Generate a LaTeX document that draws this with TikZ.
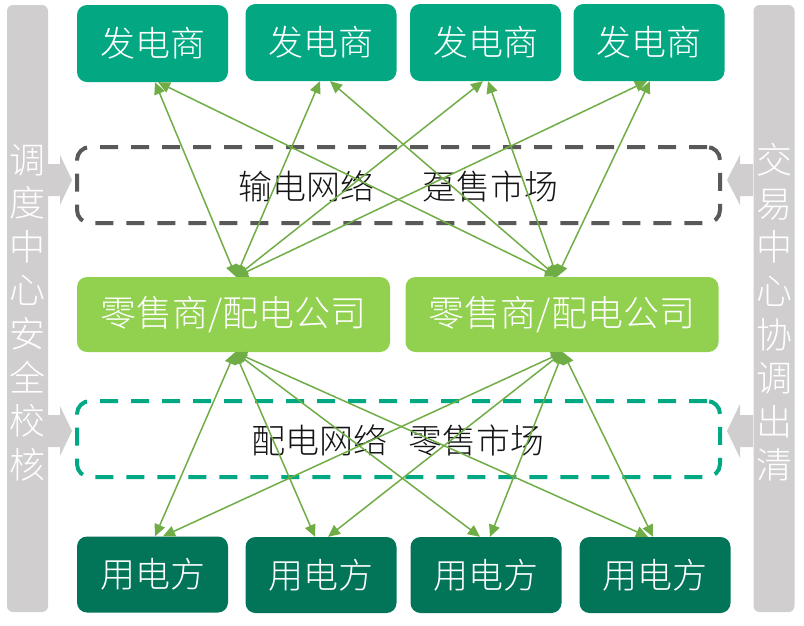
\documentclass[tikz,border=0pt]{standalone}
\usepackage{fontspec}
\setmainfont{Noto Sans CJK SC Light}
\usetikzlibrary{arrows.meta,calc}
\definecolor{gencol}{RGB}{3,168,130}
\definecolor{retcol}{RGB}{146,208,80}
\definecolor{usecol}{RGB}{2,116,88}
\definecolor{linkcol}{RGB}{112,173,71}
\definecolor{barcol}{RGB}{208,206,206}
\definecolor{dashgray}{RGB}{89,89,89}
\definecolor{dashteal}{RGB}{0,168,132}
\definecolor{txtcol}{RGB}{20,20,20}
\tikzset{
  genbox/.style={fill=gencol, rounded corners=10pt, minimum width=151pt, minimum height=77pt, inner sep=0pt, text=white, font=\fontsize{35}{40}\selectfont},
  retbox/.style={fill=retcol, rounded corners=10pt, minimum width=313pt, minimum height=75pt, inner sep=0pt, text=white, font=\fontsize{36}{42}\selectfont},
  usebox/.style={fill=usecol, rounded corners=10pt, minimum width=151pt, minimum height=76pt, inner sep=0pt, text=white, font=\fontsize{35}{40}\selectfont},
  netbox/.style={rounded corners=13pt, line width=4pt, dash pattern=on 18pt off 13pt, minimum width=643pt, minimum height=76pt, inner sep=0pt},
  nettext/.style={text=txtcol, font=\fontsize{34}{40}\selectfont, inner sep=0pt},
  sidebar/.style={fill=barcol, rounded corners=6pt, minimum width=41pt, minimum height=607pt, inner sep=0pt},
  sidetext/.style={text=white, align=center, font=\fontsize{36}{43.6}\selectfont, inner sep=0pt},
  link/.style={draw=linkcol, line width=1.5pt, {Triangle[length=12pt,width=11pt]}-{Triangle[length=12pt,width=11pt]}},
  sidearrow/.style={fill=barcol, draw=none}
}
\begin{document}
\begin{tikzpicture}[x=1pt,y=-1pt]
\useasboundingbox (0,0) rectangle (804,625);
% side bars
\node[sidebar] (lbar) at (27.5,308.5) {};
\node[sidebar] (rbar) at (774,308.5) {};
\node[sidetext] (ltext) at (27.5,312.5) {调\\度\\中\\心\\安\\全\\校\\核};
\node[sidetext] (rtext) at (774,312.5) {交\\易\\中\\心\\协\\调\\出\\清};
% dashed boxes
\node[netbox, draw=dashgray] (tnet) at (398.5,185) {};
\node[netbox, draw=dashteal] (dnet) at (398.5,439) {};
\node[nettext] (tnettxt) at (398.5,186) {输电网络\hspace*{1.4em}趸售市场};
\node[nettext] (dnettxt) at (398,440) {配电网络\hspace*{0.6em}零售市场};
% side arrows
\fill[sidearrow] (48,164) -- (60,164) -- (60,155) -- (72,180) -- (60,205) -- (60,196) -- (48,196) -- cycle;
\fill[sidearrow] (48,415) -- (60,415) -- (60,406) -- (72,431) -- (60,456) -- (60,447) -- (48,447) -- cycle;
\fill[sidearrow] (753,164) -- (740,164) -- (740,155) -- (727,180) -- (740,205) -- (740,196) -- (753,196) -- cycle;
\fill[sidearrow] (753,415) -- (740,415) -- (740,404) -- (727,431) -- (740,458) -- (740,447) -- (753,447) -- cycle;
% generators
\node[genbox] (g1) at (152.5,43.5) {发电商};
\node[genbox] (g2) at (321,42.5) {发电商};
\node[genbox] (g3) at (485.5,42.5) {发电商};
\node[genbox] (g4) at (649,42.5) {发电商};
% retailers
\node[retbox] (rA) at (233.5,314.5) {零售商/配电公司};
\node[retbox] (rB) at (562,314.5) {零售商/配电公司};
% users
\node[usebox] (u1) at (152.5,574.5) {用电方};
\node[usebox] (u2) at (321,575) {用电方};
\node[usebox] (u3) at (486,575) {用电方};
\node[usebox] (u4) at (655,575) {用电方};
% upper links
\coordinate (at) at ($(rA.north)+(2.5,0)$);
\coordinate (bt) at ($(rB.north)+(-5,0)$);
\draw[link] (at) -- ($(g1.south)+(2.5,0)$);
\draw[link] (at) -- ($(g2.south)+(-1,0)$);
\draw[link] (at) -- ($(g3.south)+(-2.5,0)$);
\draw[link] (at) -- ($(g4.south)+(-2,0)$);
\draw[link] (bt) -- ($(g1.south)+(5.5,0)$);
\draw[link] (bt) -- ($(g2.south)+(9,0)$);
\draw[link] (bt) -- ($(g3.south)+(2.5,0)$);
\draw[link] (bt) -- ($(g4.south)+(1,0)$);
% lower links
\coordinate (ab) at ($(rA.south)+(1.5,0)$);
\coordinate (bb) at ($(rB.south)+(1,0)$);
\draw[link] (ab) -- ($(u1.north)+(2.5,0)$);
\draw[link] (ab) -- ($(u2.north)+(-6,0)$);
\draw[link] (ab) -- ($(u3.north)+(-6,0)$);
\draw[link] (ab) -- ($(u4.north)+(-7,0)$);
\draw[link] (bb) -- ($(u1.north)+(10.5,0)$);
\draw[link] (bb) -- ($(u2.north)+(7,0)$);
\draw[link] (bb) -- ($(u3.north)+(4,0)$);
\draw[link] (bb) -- ($(u4.north)+(-2,0)$);
\end{tikzpicture}
\end{document}
